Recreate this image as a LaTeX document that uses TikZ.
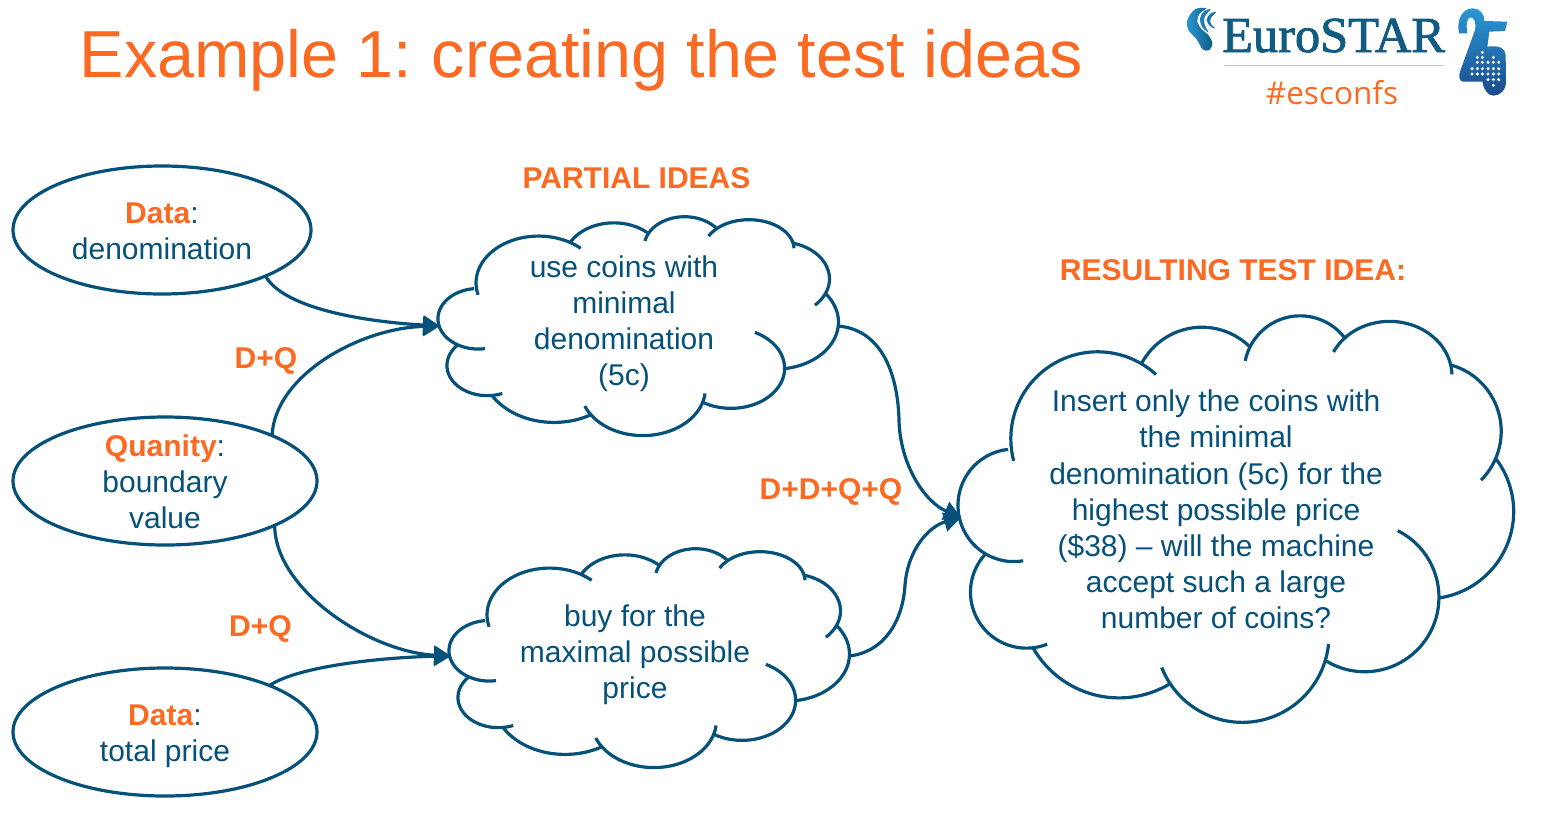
\documentclass[tikz,border=0pt]{standalone}
\usepackage{fontspec}
\setmainfont{Liberation Sans}
\newfontfamily\logoserif{Liberation Serif}
\newfontfamily\tagfont{Open Sans}
\usetikzlibrary{shapes.geometric,arrows.meta}
\definecolor{inkblue}{HTML}{06517A}
\definecolor{hotorange}{HTML}{FB6A22}
\definecolor{logoblue}{HTML}{0F5B82}
\definecolor{lightlogo}{HTML}{2A97D5}
\definecolor{darklogo}{HTML}{1B4A8C}
\tikzset{
  bodytext/.style={text=inkblue,align=center,inner sep=0pt,outer sep=0pt,font=\fontsize{30}{36.15}\selectfont},
  headtext/.style={text=hotorange,inner sep=0pt,outer sep=0pt,font=\fontsize{30}{36}\selectfont\bfseries},
  oval/.style={ellipse,draw=inkblue,line width=3.2pt,inner sep=0pt,outer sep=0pt},
  cloudbox/.style={rectangle,inner sep=0pt,outer sep=0pt},
  lobe/.style={draw=inkblue,line width=3.2pt},
  link/.style={draw=inkblue,line width=3.2pt,-{Triangle[length=17pt,width=19pt]}}
}
\newcommand{\hl}[1]{\textcolor{hotorange}{\textbf{#1}}}
% one arc of the cloud outline: wR hR startAngle sweep extendStart extendEnd
\newcommand{\lobepart}[6]{%
  \pgfmathsetmacro{\tstart}{atan2(#1*sin(#3),#2*cos(#3))}%
  \pgfmathsetmacro{\tendraw}{atan2(#1*sin(#3+#4),#2*cos(#3+#4))}%
  \pgfmathsetmacro{\tend}{\tendraw<\tstart ? \tendraw+360 : \tendraw}%
  \pgfmathsetmacro{\ccx}{\curx-#1*cos(\tstart)}%
  \pgfmathsetmacro{\ccy}{\cury-#2*sin(\tstart)}%
  \pgfmathsetmacro{\dfrom}{\tstart-#5}%
  \pgfmathsetmacro{\dto}{\tend+#6}%
  \draw[lobe] plot[domain=\dfrom:\dto,samples=50] ({\ccx+#1*cos(\x)},{\ccy+#2*sin(\x)});
  \pgfmathsetmacro{\curx}{\ccx+#1*cos(\tend)}%
  \pgfmathsetmacro{\cury}{\ccy+#2*sin(\tend)}%
}
\newcommand{\cloudlobes}{%
  \def\curx{3.9}\def\cury{14.37}%
  \lobepart{6.753}{9.190}{-190.487}{123.781}{7}{12}
  \lobepart{5.333}{7.267}{-144.102}{89.945}{0}{0}
  \lobepart{4.365}{5.945}{-145.808}{99.723}{15}{0}
  \lobepart{4.857}{5.773}{-130.986}{117.242}{18}{10}
  \lobepart{5.333}{7.273}{-78.709}{109.027}{0}{22}
  \lobepart{6.775}{9.220}{-46.267}{130.269}{0}{0}
  \lobepart{5.785}{7.867}{0.625}{114.033}{64}{0}
  \lobepart{6.752}{9.215}{22.452}{115.173}{11}{12}
  \lobepart{7.720}{10.543}{66.243}{75.711}{0}{0}
  \lobepart{4.360}{5.918}{-274.942}{146.736}{15}{0}
  \lobepart{4.345}{5.945}{-246.829}{152.519}{40}{0}
}
\begin{document}
\begin{tikzpicture}[x=1pt,y=-1pt]
\useasboundingbox[fill=white] (0,0) rectangle (1550,823);

% title and headings
\node[inner sep=0pt,anchor=base west,text=hotorange,font=\fontsize{66.5}{70}\selectfont] (title) at (79.5,77.5) {Example 1:\kern-5pt{} creating the test ideas};
\node[headtext,anchor=base] (h1) at (636.5,188) {PARTIAL IDEAS};
\node[headtext,anchor=base] (h2) at (1233,280) {RESULTING TEST IDEA:};
\node[headtext,anchor=base] (l1) at (266,368) {D+Q};
\node[headtext,anchor=base] (l2) at (260.5,636) {D+Q};
\node[headtext,anchor=base] (l3) at (831,499) {D+D+Q+Q};

% ovals
\node[oval,minimum width=298pt,minimum height=128pt] (e1) at (162,230) {};
\node[oval,minimum width=304pt,minimum height=128pt] (e2) at (165,481) {};
\node[oval,minimum width=304pt,minimum height=128pt] (e3) at (165,732) {};
\node[bodytext] (e1t) at (162,231) {\hl{Data}:\\denomination};
\node[bodytext] (e2t) at (165,482) {\hl{Quanity}:\\boundary\\value};
\node[bodytext] (e3t) at (165,736) {\hl{Data}:\\total price};

% clouds
\node[cloudbox,minimum width=400pt,minimum height=220pt] (c1) at (638,326) {};
\node[cloudbox,minimum width=400pt,minimum height=220pt] (c2) at (649,658) {};
\node[cloudbox,minimum width=555pt,minimum height=407pt] (c3) at (1235.5,519.5) {};
\begin{scope}[shift={(440.5,216)},x=9.259pt,y=-5.093pt]\cloudlobes\end{scope}
\begin{scope}[shift={(451.5,548)},x=9.259pt,y=-5.093pt]\cloudlobes\end{scope}
\begin{scope}[shift={(961.5,314.5)},x=12.847pt,y=-9.46pt]\cloudlobes\end{scope}
\node[bodytext] (t1) at (624,324) {use coins with\\minimal\\denomination\\(5c)};
\node[bodytext] (t2) at (635,655) {buy for the\\maximal possible\\price};
\node[bodytext] (t3) at (1216,509.5) {Insert only the coins with\\the minimal\\denomination (5c) for the\\highest possible price\\(\$38) -- will the machine\\accept such a large\\number of coins?};

% connectors
\draw[link] (e1.-24) .. controls (285,310) and (370,322) .. ([xshift=2pt]c1.west);
\draw[link] (e2.23) .. controls (275,375) and (360,328) .. ([xshift=2pt]c1.west);
\draw[link] (e2.-22) .. controls (275,590) and (370,652) .. ([xshift=2pt,yshift=2pt]c2.west);
\draw[link] (e3.24) .. controls (300,665) and (390,657) .. ([xshift=2pt,yshift=2pt]c2.west);
\draw[link] (c1.east) .. controls (885,330) and (898,380) .. (899,420) .. controls (900,465) and (925,502) .. ([xshift=3pt,yshift=2pt]c3.west);
\draw[link] ([yshift=2pt]c2.east) .. controls (885,652) and (903,620) .. (905,585) .. controls (908,548) and (930,526) .. ([xshift=3pt,yshift=2pt]c3.west);

% logo
\node[inner sep=0pt,anchor=base west,text=logoblue,font=\logoserif\fontsize{50.4}{54}\selectfont\addfontfeature{FakeBold=1.6}] (brand) at (1222,52) {EuroSTAR};
\draw[line width=1pt,color=black!22] (1224,65) -- (1444,65);
\node[inner sep=0pt,anchor=base,text=hotorange,font=\tagfont\fontsize{31.5}{33}\selectfont] (tag) at (1332,104) {\#esconfs};
\begin{scope}[shift={(1180,0)},x=.3333pt,y=-.3333pt]
  \shade[left color=lightlogo,right color=logoblue] plot[smooth cycle,tension=.6] coordinates {(78,25)(45,28)(22,60)(25,90)(50,118)(68,148)(88,150)(97,130)(85,105)(65,88)(52,65)(58,42)};
  \fill[color=lightlogo!60!logoblue] plot[smooth cycle,tension=.6] coordinates {(92,28)(72,34)(60,55)(66,80)(85,97)(74,73)(74,50)};
  \fill[color=lightlogo!40!logoblue] plot[smooth cycle,tension=.6] coordinates {(108,36)(90,42)(80,60)(90,78)(105,85)(93,72)(92,55)};
\end{scope}
\begin{scope}[shift={(1450,0)},x=.3333pt,y=-.3333pt]
  \shade[top color=lightlogo,bottom color=darklogo]
    (27,100) .. controls (18,55) and (40,25) .. (68,25) .. controls (88,25) and (103,40) .. (103,63)
    -- (172,65) -- (165,93) -- (118,95) -- (112,140) .. controls (150,135) and (167,145) .. (167,170)
    -- (168,245) .. controls (168,270) and (150,287) .. (130,287) .. controls (112,287) and (100,265) .. (97,245)
    -- (40,245) .. controls (28,245) and (25,230) .. (30,215) -- (75,90) .. controls (80,65) and (70,52) .. (62,52)
    .. controls (52,52) and (47,70) .. (52,100) -- cycle;
  \foreach \p in {(97,157),(82,172),(97,172),(130,172),(82,187),(97,187),(114,187),(130,187),(146,187),
                  (66,206),(82,206),(97,206),(114,206),(130,206),(146,206),
                  (66,222),(82,222),(97,222),(114,222),(130,222),(146,222),
                  (114,239),(130,239),(146,239),(130,256)}
    \fill[white] \p circle[radius=5];
\end{scope}
\end{tikzpicture}
\end{document}
